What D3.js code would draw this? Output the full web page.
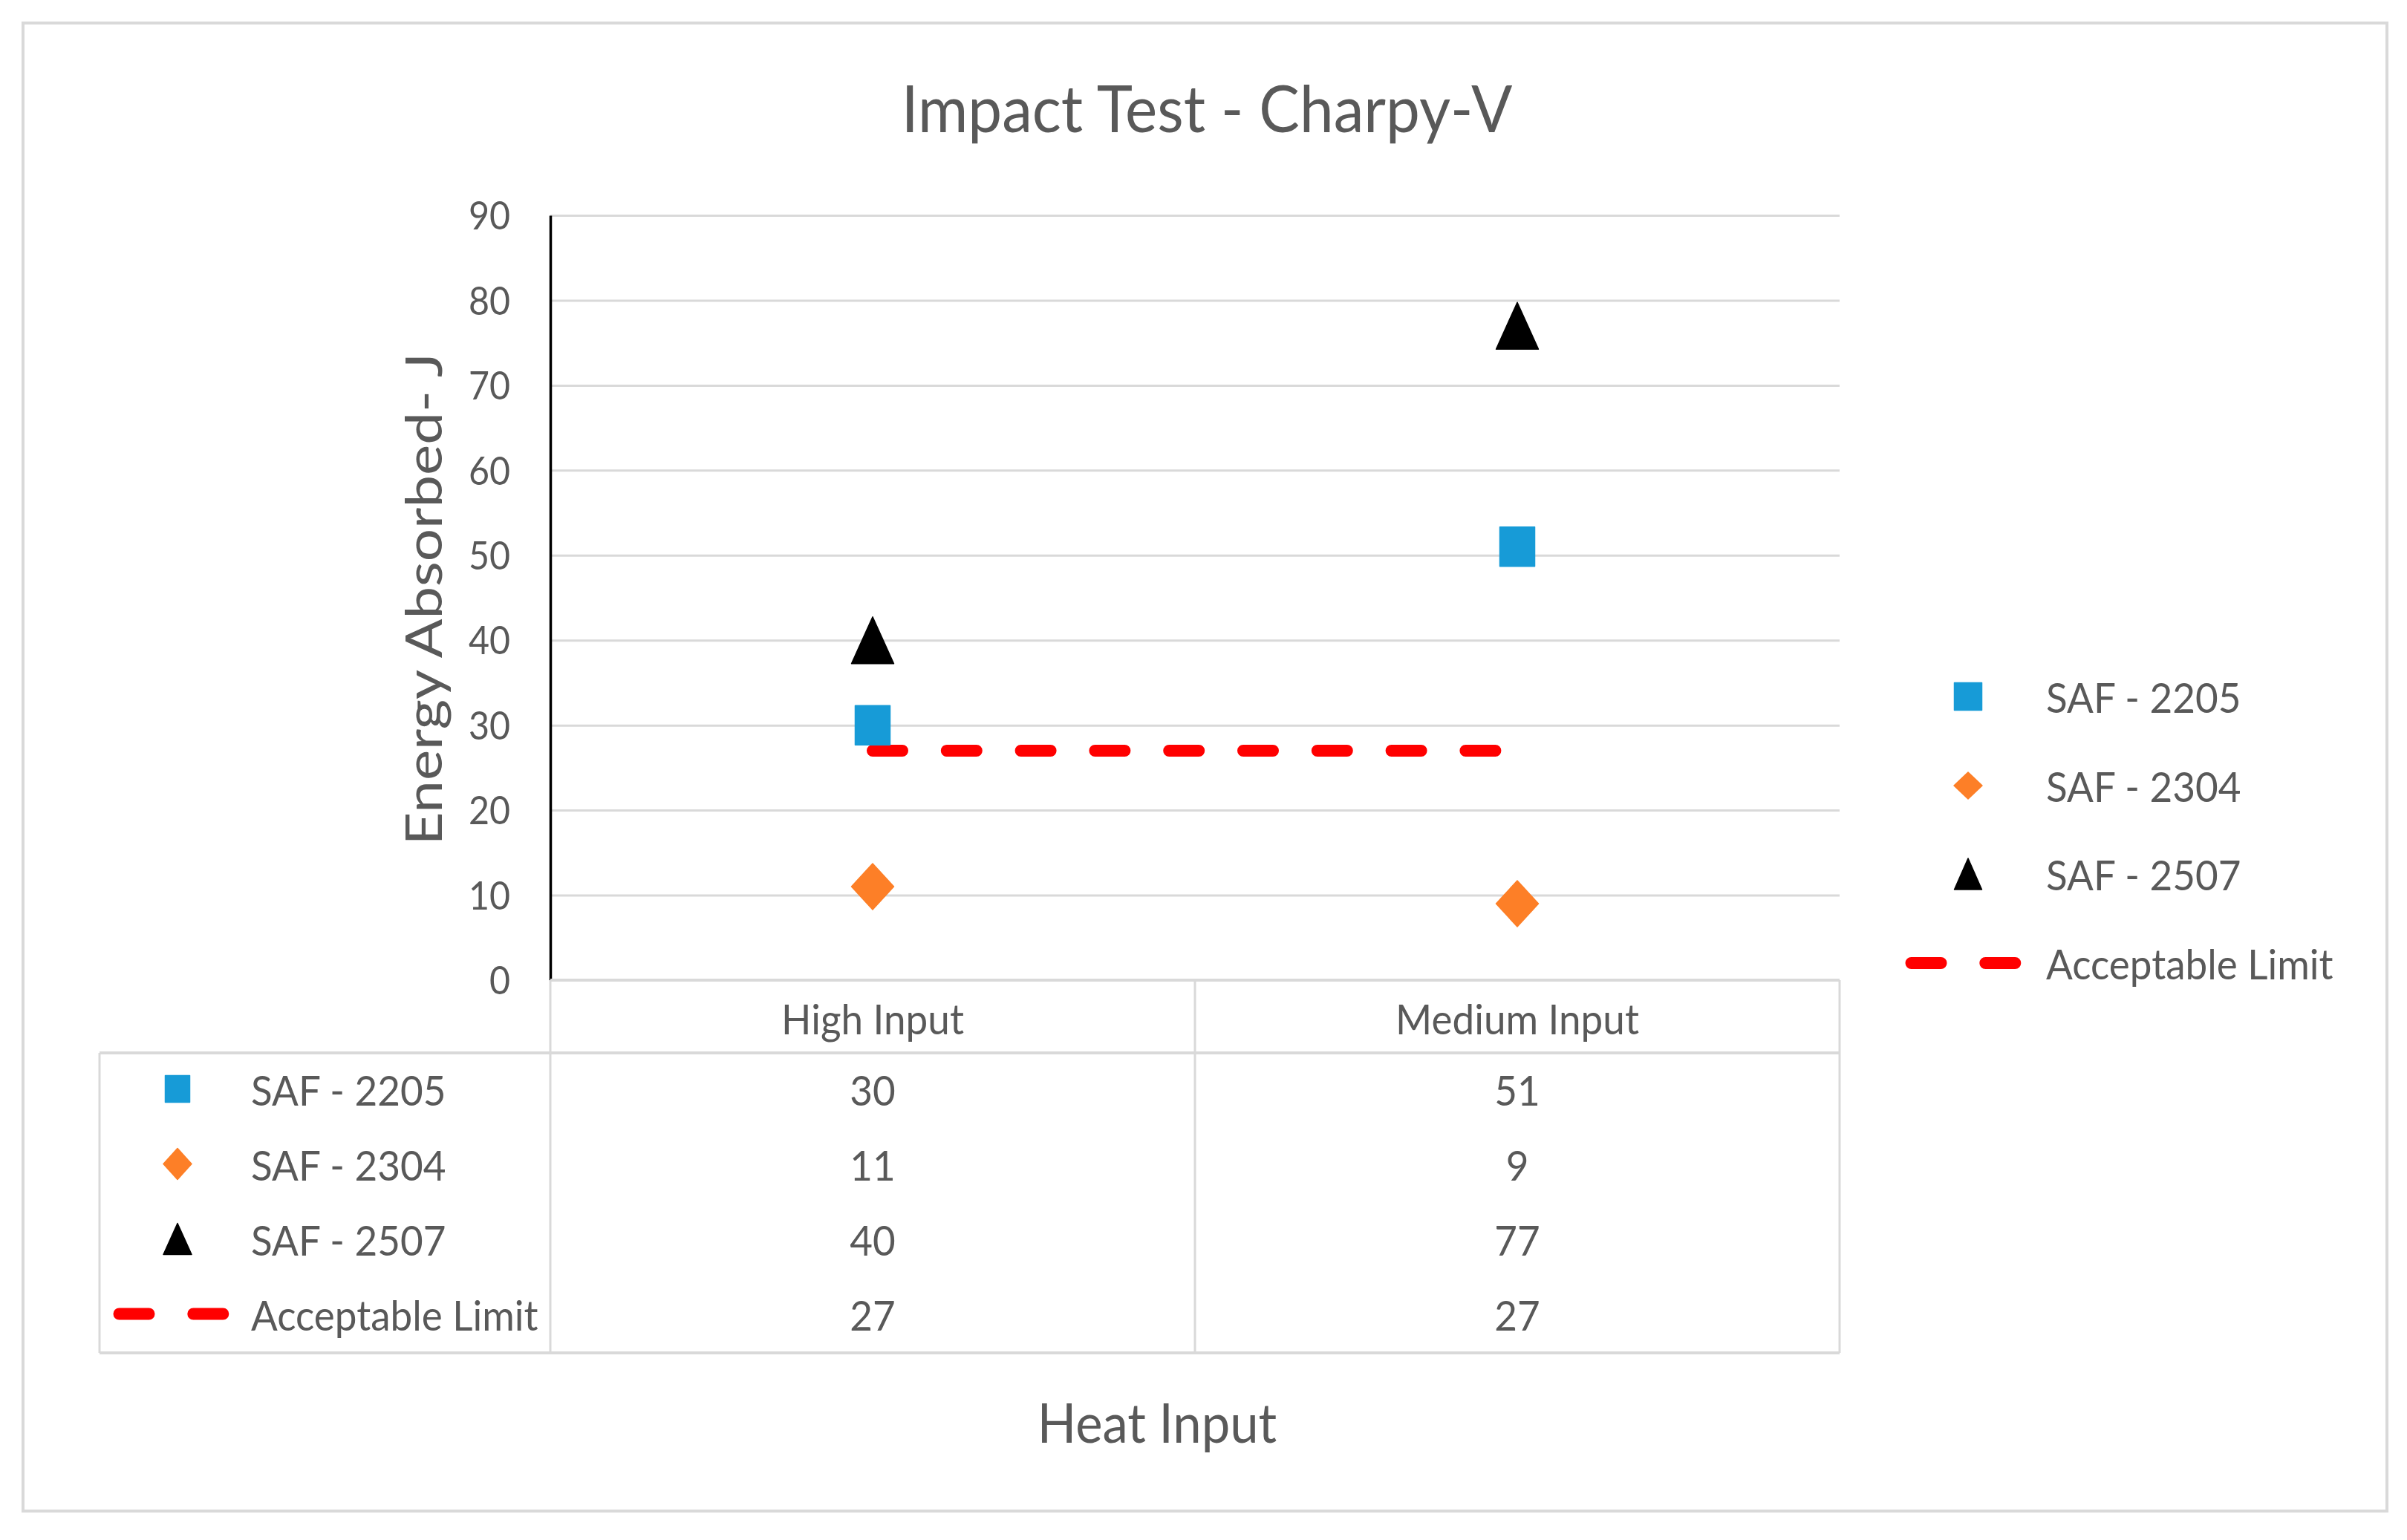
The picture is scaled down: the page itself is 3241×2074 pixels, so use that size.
<!DOCTYPE html>
<html>
<head>
<meta charset="utf-8">
<script src="https://cdn.jsdelivr.net/npm/d3@7"></script>
<style>
  body { margin: 0; background: #ffffff; }
</style>
</head>
<body>
<div id="chart"></div>
<script>

// data
var categories      = [ 'High Input', 'Medium Input' ];
var seriesNames     = [ 'SAF - 2205', 'SAF - 2304', 'SAF - 2507', 'Acceptable Limit' ];
var saf2205         = [ 30, 51 ];
var saf2304         = [ 11, 9 ];
var saf2507         = [ 40, 77 ];
var acceptableLimit = [ 27, 27 ];
var yTicks          = [ 0, 10, 20, 30, 40, 50, 60, 70, 80, 90 ];

// --------------------------------------------------------

// Chart size parameters
var chart_width     = 3241;
var chart_height    = 2074;
var plot_left       = 741;
var plot_right      = 2477;
var plot_top        = 290;
var plot_bottom     = 1320;

var text_color      = '#595959';
var grid_color      = '#d9d9d9';
var font            = 'Lato, "Open Sans", sans-serif';
var squeeze         = 0.93;   // the source picture is a bit narrow

var colors = {
	'SAF - 2205'      : '#179bd7',
	'SAF - 2304'      : '#fd7f27',
	'SAF - 2507'      : '#000000',
	'Acceptable Limit': '#ff0000'
};
var shapes = {
	'SAF - 2205' : 'square',
	'SAF - 2304' : 'diamond',
	'SAF - 2507' : 'triangle'
};

// --------------------------------------------------------

var svg = d3.select( '#chart' )
	.append( 'svg' )
	.attr( 'width', chart_width )
	.attr( 'height', chart_height )
	.style( 'display', 'block' );

svg.append( 'rect' )
	.attr( 'width', chart_width )
	.attr( 'height', chart_height )
	.attr( 'fill', '#ffffff' );

// outer chart border
svg.append( 'rect' )
	.attr( 'x', 31 )
	.attr( 'y', 31 )
	.attr( 'width', 3214 - 31 )
	.attr( 'height', 2035 - 31 )
	.attr( 'fill', 'none' )
	.attr( 'stroke', grid_color )
	.attr( 'stroke-width', 4 );

// --------------------------------------------------------
// helpers

// text centred on its cap height at (x, y)
function label( parent, x, y, str, size, anchor ) {
	return parent.append( 'text' )
		.attr( 'transform', 'translate(' + x + ',' + y + ') scale(' + squeeze + ',1)' )
		.attr( 'text-anchor', anchor || 'start' )
		.attr( 'dy', '0.36em' )
		.attr( 'font-family', font )
		.attr( 'font-size', size )
		.attr( 'fill', text_color )
		.text( str );
}

// marker path centred on 0,0
function markerPath( shape, w, h ) {
	var a = w / 2, b = h / 2;
	if ( shape === 'square' ) {
		return 'M' + (-a) + ',' + (-b) + 'H' + a + 'V' + b + 'H' + (-a) + 'Z';
	}
	if ( shape === 'diamond' ) {
		return 'M0,' + (-b) + 'L' + a + ',0L0,' + b + 'L' + (-a) + ',0Z';
	}
	return 'M0,' + (-b) + 'L' + a + ',' + b + 'L' + (-a) + ',' + b + 'Z';
}

var markerSize = {
	plot   : { square: [47, 53], diamond: [57, 62], triangle: [57, 63] },
	legend : { square: [37, 37], diamond: [38, 36], triangle: [37, 42] },
	table  : { square: [33, 36], diamond: [38, 42], triangle: [38, 42] }
};

function drawMarker( parent, name, where, x, y ) {
	var shape = shapes[ name ];
	var s = markerSize[ where ][ shape ];
	parent.append( 'path' )
		.attr( 'd', markerPath( shape, s[0], s[1] ) )
		.attr( 'transform', 'translate(' + x + ',' + y + ')' )
		.attr( 'fill', colors[ name ] )
		.attr( 'stroke', colors[ name ] )
		.attr( 'stroke-width', 1.5 )
		.attr( 'stroke-linejoin', 'round' );
}

function drawDash( parent, x1, x2, y ) {
	parent.append( 'line' )
		.attr( 'x1', x1 ).attr( 'x2', x2 )
		.attr( 'y1', y ).attr( 'y2', y )
		.attr( 'stroke', colors[ 'Acceptable Limit' ] )
		.attr( 'stroke-width', 16 )
		.attr( 'stroke-linecap', 'round' )
		.attr( 'stroke-dasharray', '40,59.8' );
}

// --------------------------------------------------------
// Scales

var x_scale = d3.scaleBand()
	.domain( categories )
	.range( [ plot_left, plot_right ] )
	.padding( 0 );

var y_scale = d3.scaleLinear()
	.domain( [ 0, 90 ] )
	.range( [ plot_bottom, plot_top ] );

function xc( cat ) {
	return x_scale( cat ) + x_scale.bandwidth() / 2;
}

// --------------------------------------------------------
// Title

label( svg, 1625, 146, 'Impact Test - Charpy-V', 88, 'middle' );

// --------------------------------------------------------
// Grid lines

var grid = d3.axisLeft( y_scale )
	.tickValues( yTicks.slice( 1 ) )
	.tickSize( -( plot_right - plot_left ) )
	.tickFormat( '' );

svg.append( 'g' )
	.attr( 'class', 'grid' )
	.attr( 'transform', 'translate(' + plot_left + ',0)' )
	.call( grid )
	.call( function( g ) {
		g.select( '.domain' ).remove();
		g.selectAll( 'line' ).attr( 'stroke', grid_color ).attr( 'stroke-width', 3 );
	});

// --------------------------------------------------------
// Y axis

var y_axis = d3.axisLeft( y_scale )
	.tickValues( yTicks )
	.tickSize( 0 )
	.tickSizeOuter( 0 )
	.tickPadding( 0 );

svg.append( 'g' )
	.attr( 'class', 'y-axis' )
	.attr( 'transform', 'translate(' + plot_left + ',0)' )
	.call( y_axis )
	.call( function( g ) {
		g.select( '.domain' ).attr( 'stroke', '#000000' ).attr( 'stroke-width', 3.5 );
		g.selectAll( 'text' )
			.attr( 'x', -54 / squeeze )
			.attr( 'dy', '0.36em' )
			.attr( 'transform', 'scale(' + squeeze + ',1)' )
			.attr( 'font-family', font )
			.attr( 'font-size', 52 )
			.attr( 'fill', text_color );
	});

// Y axis title
svg.append( 'text' )
	.attr( 'transform', 'translate(595,807) rotate(-90) scale(1,0.87)' )
	.attr( 'text-anchor', 'middle' )
	.attr( 'font-family', font )
	.attr( 'font-size', 78 )
	.attr( 'fill', text_color )
	.text( 'Energy Absorbed- J' );

// --------------------------------------------------------
// Data table below the plot

var table = svg.append( 'g' ).attr( 'class', 'data-table' );
var table_left   = 134;
var header_line  = 1418;
var row_height   = 101;
var table_bottom = header_line + row_height * seriesNames.length;

function hline( y, xa, xb, w ) {
	table.append( 'line' )
		.attr( 'x1', xa ).attr( 'x2', xb ).attr( 'y1', y ).attr( 'y2', y )
		.attr( 'stroke', grid_color ).attr( 'stroke-width', w );
}
function vline( x, ya, yb ) {
	table.append( 'line' )
		.attr( 'x1', x ).attr( 'x2', x ).attr( 'y1', ya ).attr( 'y2', yb )
		.attr( 'stroke', grid_color ).attr( 'stroke-width', 3 );
}

hline( plot_bottom, plot_left, plot_right, 4 );
hline( header_line, table_left, plot_right, 4 );
hline( table_bottom, table_left, plot_right, 4 );
vline( table_left, header_line, table_bottom );
vline( plot_left, plot_bottom, table_bottom );
categories.forEach( function( c ) {
	vline( x_scale( c ) + x_scale.bandwidth(), plot_bottom, table_bottom );
});

// header
categories.forEach( function( c ) {
	label( table, xc( c ), 1372, c, 57, 'middle' );
});

var tableValues = [ saf2205, saf2304, saf2507, acceptableLimit ];

seriesNames.forEach( function( name, i ) {
	var cy = header_line + row_height * ( i + 0.5 );
	if ( name === 'Acceptable Limit' ) {
		drawDash( table, 160.5, 300.5, cy - 2 );
	} else {
		drawMarker( table, name, 'table', 239, cy - 2 );
	}
	label( table, 338, cy, name, 57, 'start' );
	categories.forEach( function( c, j ) {
		label( table, xc( c ), cy, d3.format( 'd' )( tableValues[ i ][ j ] ), 57, 'middle' );
	});
});

// X axis title
label( svg, 1558, 1916, 'Heat Input', 74, 'middle' );

// --------------------------------------------------------
// Acceptable limit line

svg.append( 'path' )
	.datum( acceptableLimit )
	.attr( 'fill', 'none' )
	.attr( 'stroke', colors[ 'Acceptable Limit' ] )
	.attr( 'stroke-width', 16 )
	.attr( 'stroke-linecap', 'round' )
	.attr( 'stroke-dasharray', '40,59.8' )
	.attr( 'd', d3.line()
		.x( function( d, i ) { return xc( categories[ i ] ); } )
		.y( function( d ) { return y_scale( d ); } ) );

// --------------------------------------------------------
// Markers

var plotSeries = [
	{ name: 'SAF - 2205', values: saf2205 },
	{ name: 'SAF - 2304', values: saf2304 },
	{ name: 'SAF - 2507', values: saf2507 }
];

plotSeries.forEach( function( s ) {
	s.values.forEach( function( v, i ) {
		drawMarker( svg, s.name, 'plot', xc( categories[ i ] ), y_scale( v ) );
	});
});

// --------------------------------------------------------
// Legend on the right

var legend = svg.append( 'g' ).attr( 'class', 'legend' );
var legend_rows = [ 938, 1058, 1177, 1297 ];

seriesNames.forEach( function( name, i ) {
	var cy = legend_rows[ i ];
	if ( name === 'Acceptable Limit' ) {
		drawDash( legend, 2573.5, 2713.5, cy );
	} else {
		drawMarker( legend, name, 'legend', 2650, cy );
	}
	label( legend, 2755, cy + 1, name, 57, 'start' );
});

</script>
</body>
</html>
